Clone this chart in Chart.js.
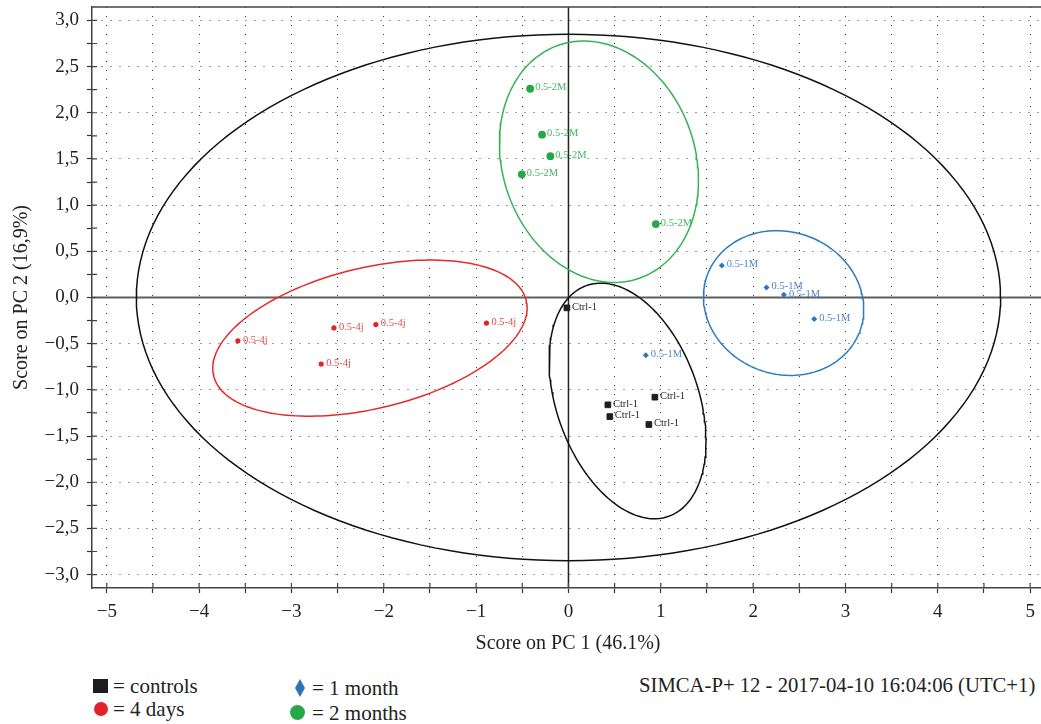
<!DOCTYPE html>
<html>
<head>
<meta charset="utf-8">
<title>PCA score plot</title>
<script src="https://cdn.jsdelivr.net/npm/chart.js@4.4.0/dist/chart.umd.min.js"></script>
<style>
  body { margin: 0; background: #fff; overflow: hidden; width: 1041px; height: 724px; position: relative;
         font-family: "Liberation Serif", "DejaVu Serif", serif; color: #222; }
  #chart { position: absolute; left: 0; top: 0; }
  .txt { position: absolute; font-size: 21px; line-height: 22px; white-space: nowrap; }
  .mk { position: absolute; }
</style>
</head>
<body>
<canvas id="chart" width="1050" height="665"></canvas>

<div class="mk" style="left:93px;top:679px;width:15px;height:14px;background:#1e1e1e"></div>
<div class="txt" style="left:113px;top:675px">= controls</div>
<div class="mk" style="left:94px;top:702px;width:14px;height:14px;border-radius:50%;background:#e3232a"></div>
<div class="txt" style="left:113px;top:698px">= 4 days</div>
<svg class="mk" style="left:294px;top:679px" width="12" height="18"><polygon points="6,0 11,9 6,18 1,9" fill="#2f74bb"/></svg>
<div class="txt" style="left:312px;top:677px">= 1 month</div>
<div class="mk" style="left:290px;top:705px;width:15px;height:15px;border-radius:50%;background:#26a748"></div>
<div class="txt" style="left:312px;top:702px">= 2 months</div>
<div class="txt" style="left:639px;top:674px;font-size:20.7px">SIMCA-P+ 12 - 2017-04-10 16:04:06 (UTC+1)</div>

<script>
// scores
const controlsX = [-0.017, 0.427, 0.448, 0.936, 0.871];
const controlsY = [-0.112, -1.162, -1.289, -1.079, -1.375];
const days4X = [-3.58, -2.54, -2.086, -0.888, -2.678];
const days4Y = [-0.469, -0.329, -0.293, -0.277, -0.721];
const month1X = [1.661, 2.145, 2.333, 2.661, 0.838];
const month1Y = [0.347, 0.108, 0.029, -0.234, -0.624];
const months2X = [-0.415, -0.286, -0.196, -0.505, 0.946];
const months2Y = [2.26, 1.763, 1.53, 1.333, 0.795];

const pointNames = ['Ctrl-1', '0.5-4j', '0.5-1M', '0.5-2M'];

// confidence ellipses: centre, half axes, rotation (deg)
const ellipseCx = [0, 0.64, -2.15, 2.33, 0.33];
const ellipseCy = [0, -1.12, -0.44, -0.06, 1.47];
const ellipseA = [4.68, 1.326, 1.741, 0.88, 1.335];
const ellipseB = [2.85, 0.768, 0.762, 0.77, 1.043];
const ellipseRot = [0, -70.35, 13.5, -20, -70.9];
const ellipseColors = ['#111111', '#111111', '#e52a2c', '#2a7bc4', '#34b254'];

const FONT = '"Liberation Serif", "DejaVu Serif", serif';

function toPoints(xs, ys) {
  return xs.map((x, i) => ({x: x, y: ys[i]}));
}

function ellipsePath(k) {
  const th = ellipseRot[k] * Math.PI / 180;
  const pts = [];
  for (let i = 0; i <= 180; i++) {
    const t = i / 180 * 2 * Math.PI;
    const u = ellipseA[k] * Math.cos(t), v = ellipseB[k] * Math.sin(t);
    pts.push({x: ellipseCx[k] + u * Math.cos(th) - v * Math.sin(th),
              y: ellipseCy[k] + u * Math.sin(th) + v * Math.cos(th)});
  }
  return pts;
}

function fmt(v, digits) {
  const s = Math.abs(v).toFixed(digits).replace('.', ',');
  return (v < -1e-9 ? '\u2212' : '') + s;
}

const ellipseSets = ellipseCx.map((c, k) => ({
  data: ellipsePath(k),
  showLine: true,
  borderColor: ellipseColors[k],
  borderWidth: 1.5,
  pointRadius: 0,
  fill: false
}));

const pointSets = [
  {data: toPoints(controlsX, controlsY), pointStyle: 'rect', pointRadius: 4, backgroundColor: '#1e1e1e',
   borderColor: '#1e1e1e', borderWidth: 1, labelColor: '#2a2a2a', name: pointNames[0]},
  {data: toPoints(days4X, days4Y), pointStyle: 'circle', pointRadius: 2.6, backgroundColor: '#e3232a',
   borderColor: '#e3232a', borderWidth: 0, labelColor: '#ea4a4a', name: pointNames[1]},
  {data: toPoints(month1X, month1Y), pointStyle: 'rectRot', pointRadius: 3, backgroundColor: '#2f74bb',
   borderColor: '#2f74bb', borderWidth: 0, labelColor: '#4a88c6', name: pointNames[2]},
  {data: toPoints(months2X, months2Y), pointStyle: 'circle', pointRadius: 3.9, backgroundColor: '#26a748',
   borderColor: '#26a748', borderWidth: 0, labelColor: '#45b465', name: pointNames[3]}
];

const decor = {
  id: 'decor',
  beforeDatasetsDraw(chart) {
    const {ctx, chartArea: a, scales: {x, y}} = chart;
    ctx.save();
    const y0 = y.getPixelForValue(0);
    ctx.strokeStyle = '#5e5e5e';
    ctx.lineWidth = 2;
    ctx.beginPath();
    ctx.moveTo(a.left, y0);
    ctx.lineTo(a.right, y0);
    ctx.stroke();
    const x0 = x.getPixelForValue(0);
    ctx.strokeStyle = '#222';
    ctx.lineWidth = 1.5;
    ctx.beginPath();
    ctx.moveTo(x0, a.top);
    ctx.lineTo(x0, a.bottom);
    ctx.stroke();
    ctx.restore();
  },
  afterDatasetsDraw(chart) {
    const {ctx, chartArea: a, scales: {x, y}} = chart;
    ctx.save();
    ctx.font = '10.5px ' + FONT;
    ctx.textBaseline = 'middle';
    chart.data.datasets.forEach((ds, i) => {
      if (!ds.name) return;
      ctx.fillStyle = ds.labelColor;
      chart.getDatasetMeta(i).data.forEach(pt => {
        ctx.fillText(ds.name, pt.x + 5, pt.y - 1);
      });
    });
    // frame top + right and inner half of the tick marks
    ctx.strokeStyle = '#444';
    ctx.lineWidth = 1.5;
    ctx.beginPath();
    ctx.moveTo(a.left, a.top);
    ctx.lineTo(a.right, a.top);
    ctx.lineTo(a.right, a.bottom);
    ctx.stroke();
    ctx.lineWidth = 1.2;
    ctx.beginPath();
    x.ticks.forEach(t => {
      const px = x.getPixelForValue(t.value);
      ctx.moveTo(px, a.bottom);
      ctx.lineTo(px, a.bottom - 5);
    });
    y.ticks.forEach(t => {
      const py = y.getPixelForValue(t.value);
      ctx.moveTo(a.left, py);
      ctx.lineTo(a.left + 5, py);
    });
    ctx.stroke();
    ctx.restore();
  }
};

const isHalf = v => Math.abs(v * 2 - Math.round(v * 2)) < 1e-6;
const isWhole = v => Math.abs(v - Math.round(v)) < 1e-6;

new Chart(document.getElementById('chart'), {
  type: 'scatter',
  data: {datasets: ellipseSets.concat(pointSets)},
  options: {
    responsive: false,
    animation: false,
    devicePixelRatio: 1,
    layout: {padding: {top: 7, right: 6, left: 0, bottom: 0}},
    plugins: {legend: {display: false}, tooltip: {enabled: false}},
    scales: {
      x: {
        type: 'linear',
        min: -5.16,
        max: 5.15,
        afterFit(scale) {
          scale.height = 77;
          scale.paddingLeft = 0;
          scale.paddingRight = 0;
        },
        ticks: {
          stepSize: 0.5,
          includeBounds: false,
          autoSkip: false,
          maxRotation: 0,
          padding: 8,
          color: '#222',
          font: {family: FONT, size: 19},
          callback: v => isWhole(v) ? fmt(v, 0) : ''
        },
        grid: {color: '#3a3a3a', lineWidth: 1, tickLength: 5, tickColor: '#333', tickWidth: 1.2},
        border: {display: true, color: '#444', width: 1.5, dash: [1, 8]},
        title: {display: true, text: 'Score on PC 1 (46.1%)', color: '#222',
                font: {family: FONT, size: 20}, padding: {top: 0, bottom: 9}}
      },
      y: {
        type: 'linear',
        min: -3.145,
        max: 3.145,
        afterFit(scale) {
          scale.width = 92;
          scale.paddingTop = 0;
          scale.paddingBottom = 0;
        },
        ticks: {
          stepSize: 0.25,
          includeBounds: false,
          autoSkip: false,
          padding: 8,
          color: '#222',
          font: {family: FONT, size: 19},
          callback: v => isHalf(v) ? fmt(v, 1) : ''
        },
        grid: {
          color: c => isHalf(c.tick.value) ? '#3a3a3a' : 'rgba(0,0,0,0)',
          lineWidth: 1, tickLength: 5, tickColor: '#333', tickWidth: 1.2
        },
        border: {display: true, color: '#444', width: 1.5, dash: [1, 8]},
        title: {display: true, text: 'Score on PC 2 (16,9%)', color: '#222',
                font: {family: FONT, size: 20}, padding: {top: 10, bottom: 0}}
      }
    }
  },
  plugins: [decor]
});
</script>
</body>
</html>
